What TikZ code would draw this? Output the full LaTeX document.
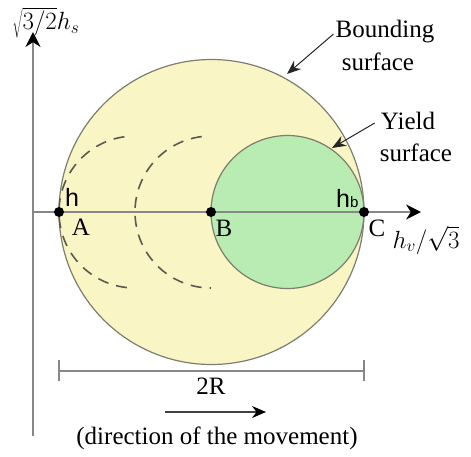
\documentclass[tikz,border=0pt]{standalone}
\usepackage{fontspec}
\setmainfont{Liberation Serif}
\newfontfamily\arialfont{Liberation Sans}
\usetikzlibrary{arrows.meta}
\definecolor{yellowfill}{RGB}{250,245,196}
\definecolor{greenfill}{RGB}{184,236,178}
\definecolor{rimcol}{RGB}{125,125,112}
\definecolor{axiscol}{RGB}{135,135,135}
\definecolor{dashcol}{RGB}{90,90,80}
\tikzset{
  rim/.style={draw=rimcol, line width=1.2pt},
  axisline/.style={draw=axiscol, line width=1.6pt, -{Stealth[length=15pt,width=15pt,black]}},
  dashedarc/.style={draw=dashcol, line width=1.6pt, dash pattern=on 11pt off 8pt},
  dotmark/.style={circle, fill=black, inner sep=0pt, minimum size=10pt},
  txt/.style={font=\fontsize{25}{28}\selectfont, inner sep=0pt},
  mathlbl/.style={font=\fontsize{23}{27}\selectfont, inner sep=0pt},
  sanslbl/.style={font=\arialfont\fontsize{25}{28}\selectfont, inner sep=0pt},
  pointer/.style={draw=black!85, line width=1pt, -{Stealth[length=14pt,width=11pt]}},
  dimline/.style={draw=axiscol, line width=1.6pt}
}
\begin{document}
\begin{tikzpicture}[x=1pt,y=-1pt]
\useasboundingbox (0,0) rectangle (471,456);
% surfaces
\fill[yellowfill] (211.5,212) circle[radius=152.5];
\draw[rim] (211.5,212) circle[radius=152.5];
\fill[greenfill] (287.5,212) circle[radius=76.5];
\draw[rim] (287.5,212) circle[radius=76.5];
% previous yield surface positions
\draw[dashedarc] (135,212) ++(-98:76) arc[start angle=-98, end angle=-268, radius=76];
\draw[dashedarc] (211,212) ++(-97:76) arc[start angle=-97, end angle=-270, radius=76];
% axes
\coordinate (origin) at (33,212);
\coordinate (ybottom) at (33,436);
\coordinate (ytip) at (33,32);
\coordinate (xtip) at (421,212);
\draw[axisline] (ybottom) -- (ytip);
\draw[axisline] (origin) -- (xtip);
% points
\node[dotmark] (A) at (59,212) {};
\node[dotmark] (B) at (211,212) {};
\node[dotmark] (C) at (364,212) {};
% labels
\node[mathlbl, anchor=north] (ylab) at (46,7) {$\sqrt{3/2}h_s$};
\node[mathlbl, font=\fontsize{26}{30}\selectfont] (xlab) at (426,240) {$h_v/\sqrt{3}$};
\node[txt] (Alab) at (81,227) {A};
\node[txt] (Blab) at (224,228) {B};
\node[txt] (Clab) at (377,228) {C};
\node[sanslbl] (hlab) at (72,197) {h};
\node[sanslbl, anchor=base west] (hblab) at (336,207) {h{\fontsize{15}{16}\selectfont b}};
\node[txt] (bnd1) at (385,32) {Bounding};
\node[txt] (bnd2) at (378,62) {surface};
\node[txt] (yld1) at (408,121) {Yield};
\node[txt] (yld2) at (416,153) {surface};
\coordinate (bndpt) at (287,74);
\coordinate (yldpt) at (332,148);
\draw[pointer] (bnd1.west) ++(-2,2) coordinate (bndstart) -- (bndpt);
\draw[pointer] (yld1.west) ++(-6,2) coordinate (yldstart) -- (yldpt);
% dimension
\coordinate (dl) at (59,371);
\coordinate (dr) at (364,371);
\draw[dimline] (dl) -- (dr);
\draw[dimline] (59,360) -- (59,381);
\draw[dimline] (364,360) -- (364,381);
\node[txt] (twoR) at (211,386) {2R};
% movement
\coordinate (mvs) at (165,412);
\coordinate (mve) at (266,412);
\draw[draw=black!75, line width=1.6pt, -{Stealth[length=14pt,width=12pt,black]}] (mvs) -- (mve);
\node[txt] (mvtxt) at (217,438) {(direction of the movement)};
\end{tikzpicture}
\end{document}
